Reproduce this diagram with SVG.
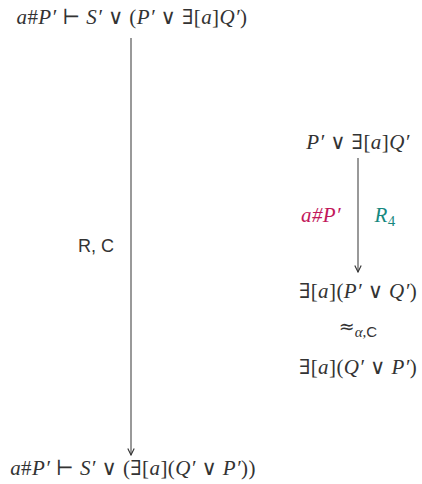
<svg xmlns="http://www.w3.org/2000/svg" width="422" height="484" viewBox="0 0 422 484">
<style>
.t{font-family:"Liberation Serif","DejaVu Serif",serif;font-size:21px;fill:#333;text-anchor:middle;letter-spacing:0.4px}
.i{font-style:italic}
.s{font-family:"Liberation Sans","DejaVu Sans",sans-serif;font-size:18px;fill:#333}
.e{stroke:#555;stroke-width:1.2;fill:none}
</style>
<defs>
<marker id="ah" viewBox="0 0 10 10" refX="9" refY="5" markerWidth="8" markerHeight="8" orient="auto" markerUnits="userSpaceOnUse">
<path d="M1,1 L9,5 L1,9" fill="none" stroke="#333" stroke-width="1.4"/>
</marker>
</defs>
<rect width="422" height="484" fill="#fff"/>
<g id="connectors">
<line class="e" x1="131" y1="38" x2="131" y2="455" marker-end="url(#ah)"/>
<line class="e" x1="358" y1="158" x2="358" y2="272" marker-end="url(#ah)"/>
</g>
<g id="n-top"><text class="t" x="132" y="24"><tspan class="i">a</tspan>#<tspan class="i">P′</tspan> ⊢ <tspan class="i">S′</tspan> ∨ (<tspan class="i">P′</tspan> ∨ ∃[<tspan class="i">a</tspan>]<tspan class="i">Q′</tspan>)</text></g>
<g id="n-bottom"><text class="t" x="133" y="475"><tspan class="i">a</tspan>#<tspan class="i">P′</tspan> ⊢ <tspan class="i">S′</tspan> ∨ (∃[<tspan class="i">a</tspan>](<tspan class="i">Q′</tspan> ∨ <tspan class="i">P′</tspan>))</text></g>
<g id="n-rc"><text class="s" x="78" y="252">R, C</text></g>
<g id="n-r1"><text class="t" x="358" y="149"><tspan class="i">P′</tspan> ∨ ∃[<tspan class="i">a</tspan>]<tspan class="i">Q′</tspan></text></g>
<g id="n-fresh"><text class="t i" x="321" y="222" style="fill:#c2185b">a#P′</text></g>
<g id="n-r4"><text class="t i" x="385" y="222" style="fill:#16897f">R<tspan font-size="15" dy="4" font-style="normal">4</tspan></text></g>
<g id="n-r2"><text class="t" x="358" y="298">∃[<tspan class="i">a</tspan>](<tspan class="i">P′</tspan> ∨ <tspan class="i">Q′</tspan>)</text></g>
<g id="n-eq"><text class="t" x="358" y="333" style="letter-spacing:0"><tspan style="font-family:'DejaVu Sans',sans-serif" font-size="19">≈</tspan><tspan class="i" font-size="15" dy="4">α</tspan><tspan font-size="15">,</tspan><tspan style="font-family:'Liberation Sans',sans-serif" font-size="15">C</tspan></text></g>
<g id="n-r3"><text class="t" x="358" y="374">∃[<tspan class="i">a</tspan>](<tspan class="i">Q′</tspan> ∨ <tspan class="i">P′</tspan>)</text></g>
</svg>
